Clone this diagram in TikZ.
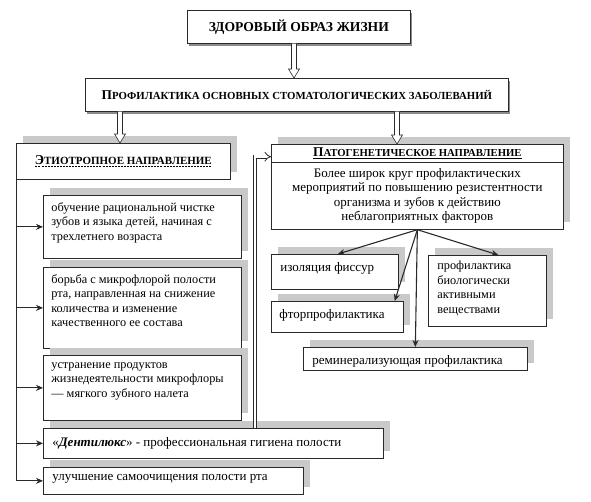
\documentclass[tikz,border=0pt]{standalone}
\usepackage{fontspec}
\setmainfont{Liberation Serif}
\usetikzlibrary{arrows.meta,shadows,calc}
\definecolor{shd}{HTML}{C9C9C9}
\definecolor{edge}{HTML}{2A2A2A}
\newcommand\fA{\fontsize{12.3}{14.5}\selectfont}
\newcommand\fB{\fontsize{13}{14.3}\selectfont}
\newcommand\tb[4]{\parbox[t][#2][t]{#1}{\vspace*{#3}\raggedright #4}}
\newsavebox\ulbox
\newcommand\dashul[1]{\sbox\ulbox{#1}\rlap{\raisebox{-2.6pt}{\hbox to \wd\ulbox{\xleaders\hbox to 3pt{\hss\rule{2pt}{0.7pt}\hss}\hfill}}}\usebox\ulbox}
\newcommand\solidul[1]{\sbox\ulbox{#1}\rlap{\raisebox{-2.4pt}{\rule{\wd\ulbox}{0.7pt}}}\usebox\ulbox}
\newcommand\hollowarrow[2]{%
  \draw[edge, line width=0.6pt, fill=white] let \p1=(#1), \p2=(#2) in
   (\x2-2.5pt,\y1) -- (\x2-2.5pt,\y2+9pt) -- (\x2-5.5pt,\y2+9pt) -- (\x2,\y2)
   -- (\x2+5.5pt,\y2+9pt) -- (\x2+2.5pt,\y2+9pt) -- (\x2+2.5pt,\y1);}
\begin{document}
\begin{tikzpicture}[x=1pt,y=-1pt,
  box/.style={draw=edge, line width=0.7pt, fill=white, inner sep=0pt, anchor=north west},
  gsh/.style={general shadow={fill=shd, shadow xshift=7pt, shadow yshift=7pt}},
  dsh/.style={drop shadow={shadow xshift=2pt, shadow yshift=-2.5pt, opacity=0.45, fill=black}},
  arr/.style={edge, line width=0.8pt, -{Stealth[length=7pt,width=6pt]}},
  parr/.style={edge, line width=1.1pt, -{Stealth[length=7pt,width=6pt]}},
  dbl/.style={edge, line width=0.8pt, double=white, double distance=2.6pt, -{Implies}}]
\useasboundingbox (0,0) rectangle (591,501);
\fill[white] (0,0) rectangle (591,501);
% top
\node[box, dsh, minimum width=223pt, minimum height=33pt] (top1) at (187,10)
  {\bfseries\fontsize{13.6}{15}\selectfont ЗДОРОВЫЙ ОБРАЗ ЖИЗНИ};
\node[box, dsh, minimum width=423pt, minimum height=33pt] (top2) at (85,78)
  {\bfseries\fontsize{13.4}{15}\selectfont П{\fontsize{10.8}{12}\selectfont РОФИЛАКТИКА ОСНОВНЫХ СТОМАТОЛОГИЧЕСКИХ ЗАБОЛЕВАНИЙ}};
% left column
\node[box, gsh, minimum width=214pt, minimum height=36pt] (eth) at (16,143)
  {\bfseries\fontsize{13.6}{15}\selectfont \dashul{Э{\fontsize{11}{12}\selectfont ТИОТРОПНОЕ НАПРАВЛЕНИЕ}}};
\node[box, gsh, inner xsep=8pt] (b1) at (43,195)
  {\tb{182pt}{63pt}{7pt}{\fA обучение рациональной чистке\\зубов и языка детей, начиная с\\трехлетнего возраста}};
\node[box, gsh, inner xsep=8pt] (b2) at (43,267)
  {\tb{182pt}{81pt}{7pt}{\fA борьба с микрофлорой полости\\рта, направленная на снижение\\количества и изменение\\качественного ее состава}};
\node[box, gsh, inner xsep=8pt] (b3) at (43,355)
  {\tb{182pt}{65pt}{7pt}{\fA устранение продуктов\\жизнедеятельности микрофлоры\\— мягкого зубного налета}};
\node[box, gsh, inner xsep=9pt] (b4) at (43,428)
  {\tb{322pt}{30pt}{9pt}{\fB «\textbf{\textit{Дентилюкс}}» - профессиональная гигиена полости}};
\node[box, gsh, inner xsep=9pt] (b5) at (43,467)
  {\tb{242pt}{27pt}{7pt}{\fB улучшение самоочищения полости рта}};
% right column
\node[box, gsh, minimum width=292pt, minimum height=67pt, align=center,
      font=\fontsize{13}{14.2}\selectfont] (patb) at (271,162)
  {Более широк круг профилактических\\мероприятий по повышению резистентности\\организма и зубов к действию\\неблагоприятных факторов};
\node[box, gsh, minimum width=292pt, minimum height=18pt] (path) at (271,144)
  {\bfseries\fontsize{13.4}{15}\selectfont \solidul{П{\fontsize{10.7}{12}\selectfont АТОГЕНЕТИЧЕСКОЕ НАПРАВЛЕНИЕ}}};
\node[box, gsh, inner xsep=9pt] (iz) at (271,254)
  {\tb{109pt}{35pt}{8pt}{\fB изоляция фиссур}};
\node[box, gsh, inner xsep=8pt] (ft) at (271,301)
  {\tb{116pt}{31pt}{8pt}{\fB фторпрофилактика}};
\node[box, gsh, inner xsep=9pt] (bio) at (428,255)
  {\tb{100pt}{71pt}{6pt}{\fA профилактика\\биологически\\активными\\веществами}};
\node[box, gsh, inner xsep=9pt] (rem) at (303,347)
  {\tb{206pt}{23pt}{8pt}{\fB реминерализующая профилактика}};
% hollow arrows
\hollowarrow{top1.south}{$(top2.north west)+(209,0)$}
\hollowarrow{top2.south}{$(eth.north west)+(104,0)$}
\hollowarrow{top2.south}{$(path.north west)+(126,0)$}
% left bracket
\draw[arr] (eth.south west) |- (b5.west);
\draw[arr] (eth.south west |- b1.west) -- (b1.west);
\draw[arr] (eth.south west |- b2.west) -- (b2.west);
\draw[arr] (eth.south west |- b3.west) -- (b3.west);
\draw[arr] (eth.south west |- b4.west) -- (b4.west);
% double connector
\draw[dbl] ($(b4.north west)+(212,0)$) |- ($(path.south west)+(0,-6)$);
% patogen arrows
\draw[parr] (patb.south) -- ($(iz.north)+(3,0)$);
\draw[parr] (patb.south) -- ($(ft.north east)+(-9,0)$);
\draw[parr] (patb.south) -- (rem.north);
\draw[parr] (patb.south) -- ($(bio.north)+(11,0)$);
\end{tikzpicture}
\end{document}
